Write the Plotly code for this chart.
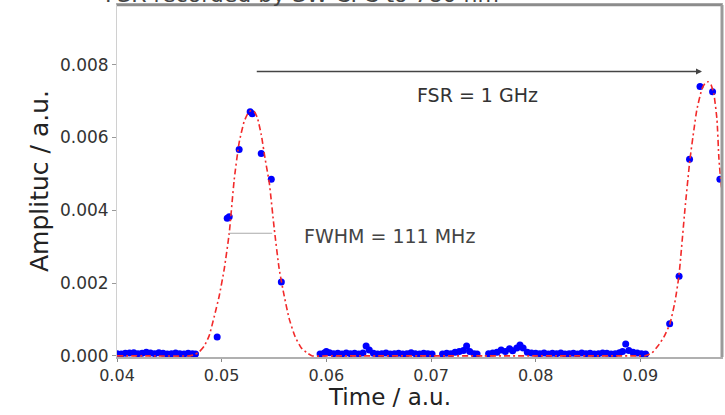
import plotly.graph_objects as go

# ---- data ----
base_a_x = [0.0400, 0.0404, 0.0408, 0.0412, 0.0416, 0.0420, 0.0424, 0.0428, 0.0432, 0.0436,
            0.0440, 0.0444, 0.0448, 0.0452, 0.0456, 0.0460, 0.0464, 0.0468, 0.0472, 0.0475]
base_a_y = [0.00006, 0.00005, 0.00007, 0.00008, 0.00009, 0.00006, 0.00007, 0.00010, 0.00008, 0.00006,
            0.00009, 0.00007, 0.00005, 0.00006, 0.00008, 0.00006, 0.00005, 0.00007, 0.00006, 0.00005]

peak1_x = [0.04957, 0.05053, 0.05072, 0.05167, 0.05272, 0.05292, 0.05378, 0.05474, 0.05570]
peak1_y = [0.00052, 0.00378, 0.00382, 0.00567, 0.00671, 0.00665, 0.00556, 0.00485, 0.00203]

base_b_x = [0.0594, 0.0598, 0.0600, 0.0603, 0.0607, 0.0611, 0.0615, 0.0619, 0.0623, 0.0627,
            0.0631, 0.0635, 0.0638, 0.0641, 0.0645, 0.0649, 0.0653, 0.0657, 0.0661, 0.0665,
            0.0669, 0.0673, 0.0677, 0.0681, 0.0685, 0.0689, 0.0693, 0.0697, 0.0701]
base_b_y = [0.00005, 0.00008, 0.00012, 0.00009, 0.00006, 0.00007, 0.00005, 0.00008, 0.00006, 0.00007,
            0.00005, 0.00008, 0.00027, 0.00016, 0.00007, 0.00005, 0.00006, 0.00008, 0.00005, 0.00006,
            0.00007, 0.00005, 0.00006, 0.00009, 0.00006, 0.00005, 0.00007, 0.00006, 0.00005]

base_c_x = [0.0711, 0.0715, 0.0719, 0.0723, 0.0727, 0.0731, 0.0734, 0.0737, 0.0741, 0.0744]
base_c_y = [0.00005, 0.00007, 0.00006, 0.00010, 0.00012, 0.00015, 0.00027, 0.00012, 0.00006, 0.00005]

base_d_x = [0.0755, 0.0759, 0.0763, 0.0767, 0.0771, 0.0775, 0.0778, 0.0782, 0.0785, 0.0788,
            0.0792, 0.0796, 0.0800, 0.0804, 0.0808, 0.0812, 0.0816, 0.0820, 0.0824, 0.0828,
            0.0832, 0.0836, 0.0840, 0.0844, 0.0848, 0.0852, 0.0856, 0.0860, 0.0864, 0.0868,
            0.0872, 0.0876, 0.0880, 0.0883, 0.0886, 0.0889, 0.0893, 0.0897, 0.0901, 0.0905]
base_d_y = [0.00006, 0.00008, 0.00010, 0.00016, 0.00012, 0.00020, 0.00014, 0.00022, 0.00030, 0.00022,
            0.00010, 0.00008, 0.00007, 0.00006, 0.00008, 0.00005, 0.00007, 0.00006, 0.00008, 0.00005,
            0.00006, 0.00007, 0.00005, 0.00008, 0.00006, 0.00007, 0.00005, 0.00006, 0.00008, 0.00007,
            0.00005, 0.00006, 0.00009, 0.00012, 0.00033, 0.00015, 0.00010, 0.00008, 0.00006, 0.00005]

peak2_x = [0.0928, 0.0937, 0.0947, 0.0957, 0.0969, 0.0976]
peak2_y = [0.00088, 0.00219, 0.00540, 0.00740, 0.00726, 0.00485]

fit_x = [0.0400, 0.0430, 0.0469, 0.04737, 0.04785, 0.04833, 0.04880, 0.04928, 0.04976, 0.05024,
         0.05072, 0.05120, 0.05167, 0.05215, 0.05254, 0.05282, 0.05311, 0.05340, 0.05378, 0.05416,
         0.05455, 0.05502, 0.05550, 0.05598, 0.05646, 0.05703, 0.05761, 0.05818, 0.05866, 0.0600,
         0.0650, 0.0700, 0.0750, 0.0800, 0.0850, 0.0900, 0.09043, 0.09110, 0.09167, 0.09225,
         0.09282, 0.09330, 0.09368, 0.09426, 0.09474, 0.09512, 0.09540, 0.09589, 0.09617, 0.09646,
         0.09675, 0.09703, 0.09732, 0.09751, 0.09770, 0.09800]
fit_y = [0.0, 0.0, 0.0, 0.00003, 0.00011, 0.00027, 0.00055, 0.00107, 0.00164, 0.00238,
         0.00337, 0.00485, 0.00586, 0.00644, 0.00668, 0.00674, 0.00671, 0.00655, 0.00608, 0.00540,
         0.00475, 0.00350, 0.00238, 0.00164, 0.00101, 0.00052, 0.00022, 0.00008, 0.0, 0.0,
         0.0, 0.0, 0.0, 0.0, 0.0, 0.0, 0.0, 0.00008, 0.00027, 0.00052,
         0.00088, 0.00148, 0.00219, 0.00403, 0.00540, 0.00622, 0.00677, 0.00734, 0.00748, 0.00753,
         0.00745, 0.00718, 0.00649, 0.00540, 0.00477, 0.00400]

x_ticks = [0.04, 0.05, 0.06, 0.07, 0.08, 0.09]
x_tick_labels = ["0.04", "0.05", "0.06", "0.07", "0.08", "0.09"]
y_ticks = [0.000, 0.002, 0.004, 0.006, 0.008]
y_tick_labels = ["0.000", "0.002", "0.004", "0.006", "0.008"]

fsr_arrow_x = [0.05321, 0.09589]
fsr_arrow_y = 0.00781
fwhm_x = [0.05072, 0.05483]
fwhm_y = 0.00337

title_text = "FSR recorded by SW-CFC to 780 nm"
FONT = "DejaVu Sans"

data_x = base_a_x + peak1_x + base_b_x + base_c_x + base_d_x + peak2_x
data_y = base_a_y + peak1_y + base_b_y + base_c_y + base_d_y + peak2_y

fig = go.Figure()
fig.add_trace(go.Scatter(x=data_x, y=data_y, mode="markers",
                         marker=dict(color="#0000ff", size=7, line=dict(width=0)),
                         showlegend=False))
fig.add_trace(go.Scatter(x=fit_x, y=fit_y, mode="lines",
                         line=dict(color="#f22a2a", width=1.6, dash="6px,3px,2px,3px",
                                   shape="spline", smoothing=0.5),
                         showlegend=False))

# FSR arrow
fig.add_annotation(x=fsr_arrow_x[1], y=fsr_arrow_y, ax=fsr_arrow_x[0], ay=fsr_arrow_y,
                   xref="x", yref="y", axref="x", ayref="y", text="",
                   showarrow=True, arrowhead=2, arrowsize=0.8, arrowwidth=1.5,
                   arrowcolor="#444444", standoff=0, startstandoff=0)
fig.add_annotation(x=0.07445, y=0.00718, xref="x", yref="y", text="FSR = 1 GHz",
                   showarrow=False, font=dict(family=FONT, size=19, color="#333333"))
# FWHM line
fig.add_shape(type="line", x0=fwhm_x[0], x1=fwhm_x[1], y0=fwhm_y, y1=fwhm_y,
              xref="x", yref="y", line=dict(color="#aaaaaa", width=1.2))
fig.add_annotation(x=0.0660, y=0.00329, xref="x", yref="y", text="FWHM = 111 MHz",
                   showarrow=False, font=dict(family=FONT, size=19, color="#444444"))

# title (cut off at the top edge, as in the reference)
fig.add_annotation(x=0.306, y=1.0, xref="paper", yref="paper", text=title_text,
                   showarrow=False, xanchor="center", yanchor="bottom", yshift=-4,
                   font=dict(family=FONT, size=22, color="#444444"))

# x-axis title placed as in the reference
fig.add_annotation(x=0.451, y=0, xref="paper", yref="paper", text="Time / a.u.",
                   showarrow=False, xanchor="center", yanchor="top", yshift=-26,
                   borderpad=0, font=dict(family=FONT, size=23, color="#222222"))

# frame accents
fig.add_shape(type="line", xref="paper", yref="paper", x0=0, x1=1, y0=1, y1=1,
              line=dict(color="#8c8c8c", width=2.5))
fig.add_shape(type="line", xref="paper", yref="paper", x0=1, x1=1, y0=0, y1=1,
              line=dict(color="#9a9a9a", width=3))

fig.update_layout(
    width=725, height=415,
    margin=dict(l=117, r=3, t=5, b=58),
    paper_bgcolor="white", plot_bgcolor="white",
    font=dict(family=FONT, color="#333333"),
    xaxis=dict(range=[0.04, 0.0978], tickmode="array", tickvals=x_ticks, ticktext=x_tick_labels,
               showgrid=False, zeroline=False, showline=True, linecolor="#b0b0b0", linewidth=1.5,
               mirror=True, ticks="outside", ticklen=3, tickcolor="#888888",
               tickfont=dict(family=FONT, size=16, color="#333333")),
    yaxis=dict(range=[-0.00003, 0.00964], tickmode="array", tickvals=y_ticks, ticktext=y_tick_labels,
               showgrid=False, zeroline=False, showline=True, linecolor="#d0d0d0", linewidth=1,
               mirror=True, ticks="outside", ticklen=4, tickcolor="#999999",
               tickfont=dict(family=FONT, size=17, color="#333333"),
               title=dict(text="Amplituc / a.u.", font=dict(family=FONT, size=25, color="#222222"),
                          standoff=4)),
)

fig.write_html("out.html")
